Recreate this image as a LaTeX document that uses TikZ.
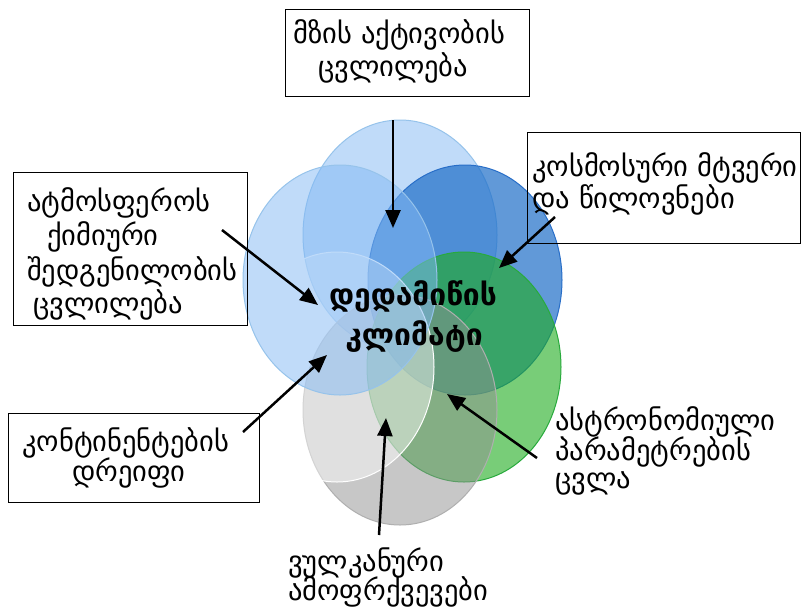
\documentclass[tikz,border=0pt]{standalone}
\usepackage{fontspec}
\setmainfont{DejaVu Sans}
\usetikzlibrary{arrows.meta,shapes.geometric}
\definecolor{ltblue}{RGB}{130,185,245}
\definecolor{ltblueline}{RGB}{150,195,235}
\definecolor{dkblue}{RGB}{30,110,200}
\definecolor{dkblueline}{RGB}{40,110,200}
\definecolor{greenfill}{RGB}{30,172,30}
\definecolor{greenline}{RGB}{40,170,60}
\definecolor{grayfill}{RGB}{145,145,145}
\definecolor{grayline}{RGB}{175,175,175}
\begin{document}
\begin{tikzpicture}[x=1pt,y=-1pt,
  petal/.style={ellipse,minimum width=194pt,minimum height=230pt,inner sep=0pt,line width=1pt},
  box/.style={draw=black,line width=1pt,inner sep=0pt,anchor=north west},
  lbl/.style={anchor=west,inner sep=0pt,font=\fontsize{28.5}{28.5}\selectfont},
  ctr/.style={anchor=center,inner sep=0pt,font=\fontsize{30}{30}\selectfont\bfseries},
  arr/.style={line width=2.5pt,-{Triangle[length=18pt,width=15pt]}}]
\useasboundingbox (0,0) rectangle (803,611);
\fill[white] (0,0) rectangle (803,611);
% petals
\node[petal,fill=ltblue,fill opacity=0.5,draw=ltblueline] (p1) at (400,235) {};
\node[petal,fill=dkblue,fill opacity=0.7,draw=dkblueline] (p2) at (465,280) {};
\node[petal,fill=greenfill,fill opacity=0.6,draw=greenline] (p3) at (464,367) {};
\node[petal,fill=grayfill,fill opacity=0.5,draw=grayline] (p4) at (400,410) {};
\node[petal,fill=white,fill opacity=0.45,draw=white] (p5) at (337,367) {};
\node[petal,fill=ltblue,fill opacity=0.5,draw=ltblueline] (p6) at (340,280) {};
% center text
\node[ctr] (c1) at (413,297) {დედამიწის};
\node[ctr] (c2) at (414,337) {კლიმატი};
% boxes
\node[box,minimum width=244pt,minimum height=87pt] (b1) at (285,9) {};
\node[box,minimum width=234pt,minimum height=153pt] (b2) at (13,172) {};
\node[box,minimum width=273pt,minimum height=111pt] (b3) at (527,132) {};
\node[box,minimum width=251pt,minimum height=89pt] (b4) at (8,413) {};
% labels
\node[lbl] (t1a) at (293,35) {მზის აქტივობის};
\node[lbl] (t1b) at (318,68) {ცვლილება};
\node[lbl] (t2a) at (27,203) {ატმოსფეროს};
\node[lbl] (t2b) at (47,237) {ქიმიური};
\node[lbl] (t2c) at (27,272) {შედგენილობის};
\node[lbl] (t2d) at (33,305) {ცვლილება};
\node[lbl] (t3a) at (532,168) {კოსმოსური მტვერი};
\node[lbl] (t3b) at (532,200) {და წილოვნები};
\node[lbl] (t4a) at (22,443) {კონტინენტების};
\node[lbl] (t4b) at (72,473) {დრეიფი};
\node[lbl] (t5a) at (555,422) {ასტრონომიული};
\node[lbl] (t5b) at (555,452) {პარამეტრების};
\node[lbl] (t5c) at (555,483) {ცვლა};
\node[lbl] (t6a) at (288,563) {ვულკანური};
\node[lbl] (t6b) at (288,592) {ამოფრქვევები};
% arrows
\coordinate (a1s) at (393,120); \coordinate (a1e) at (393,228);
\coordinate (a2s) at (222,230); \coordinate (a2e) at (318,305);
\coordinate (a3s) at (555,217); \coordinate (a3e) at (499,268);
\coordinate (a4s) at (243,432); \coordinate (a4e) at (327,355);
\coordinate (a5s) at (537,458); \coordinate (a5e) at (447,394);
\coordinate (a6s) at (379,535); \coordinate (a6e) at (386,418);
\draw[arr] (a1s) -- (a1e);
\draw[arr] (a2s) -- (a2e);
\draw[arr] (a3s) -- (a3e);
\draw[arr] (a4s) -- (a4e);
\draw[arr] (a5s) -- (a5e);
\draw[arr] (a6s) -- (a6e);
\end{tikzpicture}
\end{document}
